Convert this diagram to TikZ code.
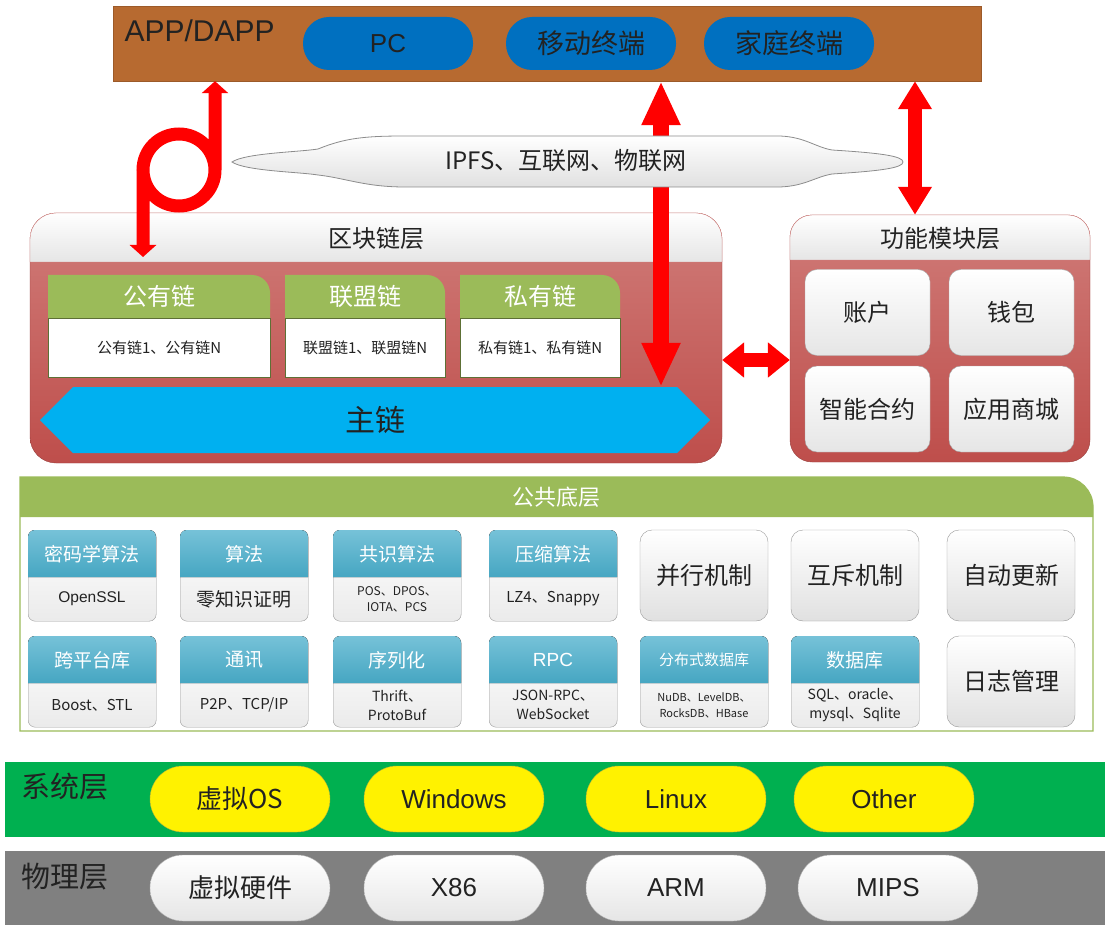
\documentclass[tikz,border=0pt]{standalone}
\usepackage{fontspec}
\setmainfont{Noto Sans CJK SC}
\newfontfamily\lat{Liberation Sans}
\usetikzlibrary{arrows.meta,calc,positioning,shapes.symbols}

\definecolor{appbrown}{RGB}{183,106,48}
\definecolor{pcblue}{RGB}{0,112,192}
\definecolor{arrowred}{RGB}{255,0,0}
\definecolor{layerred}{RGB}{190,78,75}
\definecolor{layerredlt}{RGB}{208,124,121}
\definecolor{chaingreen}{RGB}{155,187,89}
\definecolor{mainblue}{RGB}{0,176,240}
\definecolor{libblue}{RGB}{70,166,194}
\definecolor{libbluelt}{RGB}{118,194,216}
\definecolor{sysgreen}{RGB}{0,176,80}
\definecolor{hwgray}{RGB}{128,128,128}
\definecolor{ink}{RGB}{34,34,34}

\newcommand{\fs}[2]{\fontsize{#1}{#2}\selectfont}
\newcommand{\libcard}[6]{%
  \node[libbox, anchor=north west] (#1) at (#2,#3) {};
  \fill[libhead] (#2,#3+47) [rounded corners=7pt] -- (#2,#3) -- (#2+128,#3) [sharp corners] -- (#2+128,#3+47) -- cycle;
  \node[libtitle] (#1-t) at (#2+64,#3+24) {#4};
  \node[libtext, font=#6] (#1-b) at (#2+64,#3+69) {#5};
}

\begin{document}
\begin{tikzpicture}[x=1pt,y=-1pt]
  \tikzset{
    appbar/.style={rectangle, fill=appbrown, draw=appbrown!85!black, minimum width=868pt, minimum height=75pt, inner sep=0pt},
    pill/.style={rectangle, rounded corners=26pt, fill=pcblue, minimum width=170pt, minimum height=53pt, text=ink, font=\fs{27}{30}},
    layer/.style={rectangle, rounded corners=26pt, draw=layerred!80!black, top color=layerredlt, bottom color=layerred, inner sep=0pt},
    layerhead/.style={draw=layerred!70, top color=white, bottom color=black!10},
    layertitle/.style={text=ink, font=\fs{24}{28}},
    chainhead/.style={fill=chaingreen},
    chainbody/.style={rectangle, fill=white, draw=chaingreen!60!black, minimum height=59pt, inner sep=0pt, text=ink, font=\fs{15}{18}},
    chaintitle/.style={text=white, font=\fs{24}{28}},
    funcbox/.style={rectangle, rounded corners=12pt, draw=black!35, top color=white, bottom color=black!10, minimum width=125pt, minimum height=86pt, text=ink, font=\fs{24}{28}},
    libbox/.style={rectangle, rounded corners=7pt, draw=black!40, top color=white, bottom color=black!8, minimum width=128pt, minimum height=91pt, inner sep=0pt},
    libhead/.style={top color=libbluelt, bottom color=libblue},
    libtitle/.style={text=white, font=\fs{19}{22}},
    libtext/.style={text=ink, align=center},
    mechbox/.style={rectangle, rounded corners=12pt, draw=black!40, top color=white, bottom color=black!12, minimum width=128pt, minimum height=91pt, text=ink, font=\fs{24}{28}},
    bar/.style={rectangle, minimum width=1100pt, minimum height=75pt, inner sep=0pt},
    barlabel/.style={text=ink, font=\fs{29}{32}},
    ospill/.style={rectangle, rounded corners=33pt, fill=yellow, draw=yellow!70!black, minimum width=180pt, minimum height=66pt, text=ink, font=\fs{26}{30}},
    hwpill/.style={rectangle, rounded corners=33pt, top color=white, bottom color=black!10, draw=black!30, minimum width=180pt, minimum height=66pt, text=ink, font=\fs{26}{30}},
    bigarrow/.style={draw=arrowred, line width=16pt, {Triangle[width=36pt,length=44pt]}-{Triangle[width=36pt,length=44pt]}},
    sidearrow/.style={draw=arrowred, line width=14pt, {Triangle[width=32pt,length=28pt]}-{Triangle[width=32pt,length=28pt]}},
    linkarrow/.style={draw=arrowred, line width=14pt, {Triangle[width=34pt,length=22pt]}-{Triangle[width=34pt,length=22pt]}},
    looparrow/.style={draw=arrowred, line width=13pt, {Triangle[width=26pt,length=12pt]}-{Triangle[width=26pt,length=12pt]}}
  }
  \useasboundingbox (0,0) rectangle (1105,925);

  \node[appbar] (app) at (547,43.5) {};
  \node[anchor=west, text=ink, font=\lat\fs{30}{34}] (app-t) at (121,31) {APP/DAPP};
  \node[pill, font=\lat\fs{26}{30}] (pc) at (388,43.5) {PC};
  \node[pill] (mob) at (591,43.5) {移动终端};
  \node[pill] (home) at (789,43.5) {家庭终端};

  \node[layer, minimum width=692pt, minimum height=250pt] (chain) at (376,338) {};
  \path[layerhead] (30,262) [rounded corners=26pt] -- (30,213) -- (722,213) [sharp corners] -- (722,262) -- cycle;
  \node[layertitle] (chain-t) at (376,238) {区块链层};

  \fill[chainhead] (48,318) -- (48,275) [rounded corners=18pt] -- (270,275) [sharp corners] -- (270,318) -- cycle;
  \node[chaintitle] (pub-t) at (159,296) {公有链};
  \node[chainbody, minimum width=222pt, anchor=north west] (pub) at (48,318) {公有链1、公有链N};
  \fill[chainhead] (285,318) -- (285,275) [rounded corners=18pt] -- (445,275) [sharp corners] -- (445,318) -- cycle;
  \node[chaintitle] (con-t) at (365,296) {联盟链};
  \node[chainbody, minimum width=160pt, anchor=north west] (con) at (285,318) {联盟链1、联盟链N};
  \fill[chainhead] (460,318) -- (460,275) [rounded corners=18pt] -- (620,275) [sharp corners] -- (620,318) -- cycle;
  \node[chaintitle] (pri-t) at (540,296) {私有链};
  \node[chainbody, minimum width=160pt, anchor=north west] (pri) at (460,318) {私有链1、私有链N};

  \node[signal, signal to=east and west, signal pointer angle=90, fill=mainblue, minimum width=670pt, minimum height=66pt, inner sep=0pt, text=ink, font=\fs{30}{34}] (main) at (375,420) {主链};

  \node[layer, rounded corners=22pt, minimum width=300pt, minimum height=247pt] (func) at (940,338.5) {};
  \path[layerhead] (790,260) [rounded corners=22pt] -- (790,215) -- (1090,215) [sharp corners] -- (1090,260) -- cycle;
  \node[layertitle] (func-t) at (940,238) {功能模块层};
  \node[funcbox] (acct) at (867.5,312.5) {账户};
  \node[funcbox] (wallet) at (1011.5,312.5) {钱包};
  \node[funcbox] (contract) at (867.5,409) {智能合约};
  \node[funcbox] (store) at (1011.5,409) {应用商城};

  \path[draw=chaingreen, line width=1.2pt, fill=white] (20,731) -- (20,477) [rounded corners=30pt] -- (1093,477) [sharp corners] -- (1093,731) -- cycle;
  \path[fill=chaingreen] (20,517) -- (20,477) [rounded corners=30pt] -- (1093,477) [sharp corners] -- (1093,517) -- cycle;
  \node[text=white, font=\fs{22}{26}] (base-t) at (556,497) {公共底层};

  \libcard{crypto}{28}{530}{密码学算法}{OpenSSL}{\lat\fs{15.5}{18}}
  \libcard{algo}{180}{530}{算法}{零知识证明}{\fs{19}{22}}
  \libcard{cons}{333}{530}{共识算法}{POS、DPOS、\\IOTA、PCS}{\fs{12}{16}}
  \libcard{zip}{489}{530}{压缩算法}{LZ4、Snappy}{\fs{15}{18}}
  \node[mechbox] (para) at (704,575.5) {并行机制};
  \node[mechbox] (mutex) at (855,575.5) {互斥机制};
  \node[mechbox] (update) at (1011,575.5) {自动更新};

  \libcard{xplat}{28}{636}{跨平台库}{Boost、STL}{\fs{15}{18}}
  \libcard{comm}{180}{636}{通讯}{P2P、TCP/IP}{\fs{15}{18}}
  \libcard{serial}{333}{636}{序列化}{Thrift、\\ProtoBuf}{\fs{14}{19}}
  \libcard{rpc}{489}{636}{\lat RPC}{JSON-RPC、\\WebSocket}{\fs{14}{19}}
  \libcard{dist}{640}{636}{\fs{15}{18}分布式数据库}{NuDB、LevelDB、\\RocksDB、HBase}{\fs{11}{16}}
  \libcard{db}{791}{636}{数据库}{SQL、oracle、\\mysql、Sqlite}{\fs{14}{19}}
  \node[mechbox] (log) at (1011,681.5) {日志管理};

  \node[bar, fill=sysgreen] (os) at (555,799.5) {};
  \node[barlabel] (os-l) at (65,787) {系统层};
  \node[ospill] (vos) at (240,799) {虚拟OS};
  \node[ospill, font=\lat\fs{26}{30}] (win) at (454,799) {Windows};
  \node[ospill, font=\lat\fs{26}{30}] (linux) at (676,799) {Linux};
  \node[ospill, font=\lat\fs{26}{30}] (other) at (884,799) {Other};

  \node[bar, fill=hwgray] (hw) at (555,888.5) {};
  \node[barlabel] (hw-l) at (65,877) {物理层};
  \node[hwpill] (vhw) at (240,888) {虚拟硬件};
  \node[hwpill, font=\lat\fs{26}{30}] (x86) at (454,888) {X86};
  \node[hwpill, font=\lat\fs{26}{30}] (arm) at (676,888) {ARM};
  \node[hwpill, font=\lat\fs{26}{30}] (mips) at (888,888) {MIPS};

  \coordinate (loopend) at (143,257);
  \draw[looparrow] (loopend) -- (143,170) arc[start angle=180, delta angle=540, radius=36] -- (215,0 |- app.south);
  \draw[bigarrow] (661,0 |- app.south) -- (661,0 |- main.north);
  \draw[sidearrow] (915,0 |- app.south) -- (915,0 |- func.north);
  \draw[linkarrow] (chain.east |- 0,360) -- (func.west |- 0,360);

  \path[draw=black!45, line width=0.8pt, top color=white, bottom color=black!12]
    (232,162) .. controls (245,153) and (300,152) .. (318,149)
    .. controls (345,138) and (365,136) .. (405,136) -- (780,136)
    .. controls (805,137) and (815,147) .. (832,150)
    .. controls (880,153) and (903,156) .. (903,162)
    .. controls (903,168) and (880,171) .. (832,174)
    .. controls (815,177) and (805,186) .. (780,187) -- (405,187)
    .. controls (365,187) and (345,178) .. (318,175)
    .. controls (300,172) and (245,171) .. (232,162) -- cycle;
  \node[text=ink, font=\fs{24}{27}] (net) at (566,160) {IPFS、互联网、物联网};
\end{tikzpicture}
\end{document}
